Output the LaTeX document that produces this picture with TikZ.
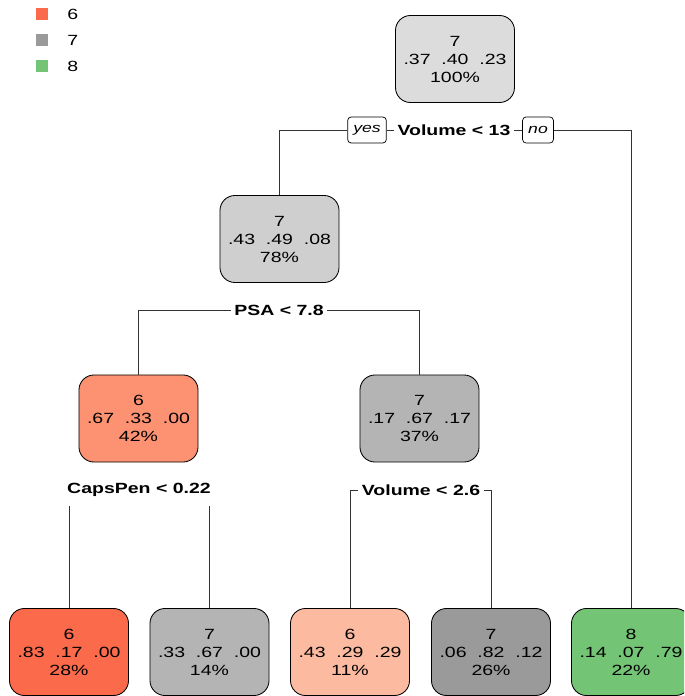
\documentclass[tikz,border=0pt]{standalone}
\usepackage{fontspec}
\setmainfont[FakeStretch=1.32]{Liberation Sans}
\usepackage{tikz}
\usetikzlibrary{positioning, calc}
\usepackage{xcolor}
\definecolor{redleaf}{HTML}{FB6A4A}
\definecolor{redmid}{HTML}{FC9272}
\definecolor{redlight}{HTML}{FCBBA1}
\definecolor{grayroot}{HTML}{DCDCDC}
\definecolor{graymid}{HTML}{CFCFCF}
\definecolor{graybox}{HTML}{B4B4B4}
\definecolor{graydark}{HTML}{9A9A9A}
\definecolor{greenleaf}{HTML}{74C476}
\newcommand{\gapp}{\ \ }

\begin{document}
\begin{tikzpicture}[x=0.025cm, y=-0.025cm,
    font=\fontsize{10.5}{12.8}\selectfont,
    treebox/.style={draw=black, line width=0.6pt, rounded corners=0.375cm, align=center,
        minimum width=2.975cm, minimum height=2.175cm, inner sep=0pt},
    splitlabel/.style={fill=white, inner xsep=2.5pt, inner ysep=0pt, minimum height=0.8cm,
        font=\fontsize{10.5}{12.8}\selectfont\bfseries},
    yesno/.style={draw=black, fill=white, line width=0.5pt, rounded corners=2.5pt,
        font=\fontsize{9.5}{11}\selectfont\itshape, inner xsep=4pt, minimum height=0.65cm},
    branch/.style={draw=black!80, line width=0.6pt},
    keybox/.style={minimum size=0.3cm, inner sep=0pt}]
    \useasboundingbox (0,0) rectangle (684,696);
    \clip (0,0) rectangle (684,696);

    % --- Legenda ---
    \node[keybox, fill=redleaf] (key6) at (42,14) {};
    \node[keybox, fill=graydark] (key7) at (42,40) {};
    \node[keybox, fill=greenleaf] (key8) at (42,66) {};
    \node[anchor=west, inner sep=0pt] at (67,14) {6};
    \node[anchor=west, inner sep=0pt] at (67,40) {7};
    \node[anchor=west, inner sep=0pt] at (67,66) {8};

    % --- Wezly drzewa ---
    \node[treebox, fill=grayroot] (root) at (455,59) {7\\.37\gapp.40\gapp.23\\100\%};
    \node[treebox, fill=graymid] (vol13) at (279.5,239) {7\\.43\gapp.49\gapp.08\\78\%};
    \node[treebox, fill=redmid] (psalo) at (138.5,418.5) {6\\.67\gapp.33\gapp.00\\42\%};
    \node[treebox, fill=graybox] (psahi) at (419.5,418.5) {7\\.17\gapp.67\gapp.17\\37\%};

    % Liscie
    \node[treebox, fill=redleaf] (leafa) at (69,652) {6\\.83\gapp.17\gapp.00\\28\%};
    \node[treebox, fill=graybox] (leafb) at (209.5,652) {7\\.33\gapp.67\gapp.00\\14\%};
    \node[treebox, fill=redlight] (leafc) at (350,652) {6\\.43\gapp.29\gapp.29\\11\%};
    \node[treebox, fill=graydark] (leafd) at (491,652) {7\\.06\gapp.82\gapp.12\\26\%};
    \node[treebox, fill=greenleaf] (leafe) at (631,652) {8\\.14\gapp.07\gapp.79\\22\%};

    % --- Etykiety podzialow ---
    \node[splitlabel] (splitvol) at (454,130) {Volume < 13};
    \node[yesno] (yes) at (367,130) {yes};
    \node[yesno] (no) at (538,130) {no};
    \node[splitlabel] (splitpsa) at (279,310) {PSA < 7.8};
    \node[splitlabel] (splitcaps) at (139,490) {CapsPen < 0.22};
    \node[splitlabel] (splitvolb) at (421,490) {Volume < 2.6};

    % --- Galezie ---
    \draw[branch] (yes.west) -| (vol13.north);
    \draw[branch] (yes.east) -- (splitvol.west);
    \draw[branch] (splitvol.east) -- (no.west);
    \draw[branch] (no.east) -| (leafe.north);
    \draw[branch] (splitpsa.west) -| (psalo.north);
    \draw[branch] (splitpsa.east) -| (psahi.north);
    \draw[branch] (splitcaps.south -| leafa.north) -- (leafa.north);
    \draw[branch] (splitcaps.south -| leafb.north) -- (leafb.north);
    \draw[branch] (splitvolb.west) -| (leafc.north);
    \draw[branch] (splitvolb.east) -| (leafd.north);
\end{tikzpicture}
\end{document}
